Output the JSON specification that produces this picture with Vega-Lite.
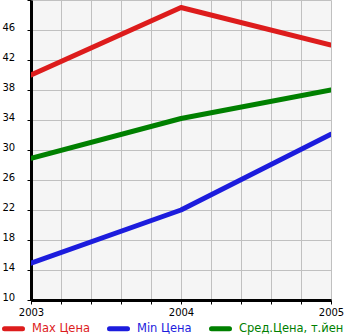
{
  "$schema": "https://vega.github.io/schema/vega-lite/v6.json",
  "width": 300,
  "height": 300,
  "autosize": "none",
  "padding": {"left": 31, "top": 0, "right": 14, "bottom": 35},
  "background": "white",
  "config": {
    "view": {"fill": "#f5f5f5", "stroke": null},
    "font": "DejaVu Sans"
  },
  "data": {
    "values": [
      {"year": 2003, "series": "Max Цена", "price": 40},
      {"year": 2004, "series": "Max Цена", "price": 49},
      {"year": 2005, "series": "Max Цена", "price": 44},
      {"year": 2003, "series": "Min Цена", "price": 14.9},
      {"year": 2004, "series": "Min Цена", "price": 22},
      {"year": 2005, "series": "Min Цена", "price": 32.1},
      {"year": 2003, "series": "Сред.Цена, т.йен", "price": 28.9},
      {"year": 2004, "series": "Сред.Цена, т.йен", "price": 34.2},
      {"year": 2005, "series": "Сред.Цена, т.йен", "price": 38}
    ]
  },
  "mark": {"type": "line", "strokeWidth": 5, "strokeCap": "round", "strokeJoin": "round", "clip": true},
  "encoding": {
    "x": {
      "field": "year", "type": "quantitative",
      "scale": {"domain": [2003, 2005], "nice": false, "zero": false},
      "axis": {
        "title": null,
        "values": [2003, 2003.2, 2003.4, 2003.6, 2003.8, 2004, 2004.2, 2004.4, 2004.6, 2004.8, 2005],
        "labelExpr": "datum.value % 1 === 0 ? format(datum.value, 'd') : ''",
        "grid": true, "gridColor": "#c0c0c0", "gridOpacity": 1, "gridWidth": 1,
        "domainColor": "black", "domainWidth": 3,
        "tickColor": "black", "tickSize": 4, "tickWidth": 1,
        "labelFontSize": 10, "labelColor": "black", "labelPadding": 3,
        "labelFlush": false, "labelOverlap": false
      }
    },
    "y": {
      "field": "price", "type": "quantitative",
      "scale": {"domain": [10, 50], "nice": false, "zero": false},
      "axis": {
        "title": null,
        "values": [10, 14, 18, 22, 26, 30, 34, 38, 42, 46, 50],
        "labelExpr": "datum.value === 50 ? '' : datum.value",
        "grid": true, "gridColor": "#c0c0c0", "gridOpacity": 1, "gridWidth": 1,
        "domainColor": "black", "domainWidth": 3,
        "tickColor": "black", "tickSize": 4, "tickWidth": 1,
        "labelFontSize": 10, "labelColor": "black",
        "labelAlign": "left", "labelPadding": 25, "labelBaseline": "alphabetic",
        "labelFlush": false, "labelOverlap": false
      }
    },
    "color": {
      "field": "series", "type": "nominal",
      "scale": {
        "domain": ["Max Цена", "Min Цена", "Сред.Цена, т.йен"],
        "range": ["#dd1c1c", "#1c1cdd", "#008000"]
      },
      "legend": {
        "title": null,
        "orient": "none",
        "legendX": -29,
        "legendY": 317,
        "direction": "horizontal",
        "symbolType": "stroke",
        "symbolStrokeWidth": 5,
        "symbolSize": 324,
        "labelFontSize": 11.5,
        "labelOffset": 7,
        "columnPadding": 9,
        "padding": 0,
        "offset": 0,
        "labelLimit": 200,
        "labelBaseline": "middle",
        "encode": {
          "labels": {"update": {"fill": {"scale": "color", "field": "value"}}},
          "symbols": {"update": {"strokeCap": {"value": "round"}}}
        }
      }
    }
  }
}
